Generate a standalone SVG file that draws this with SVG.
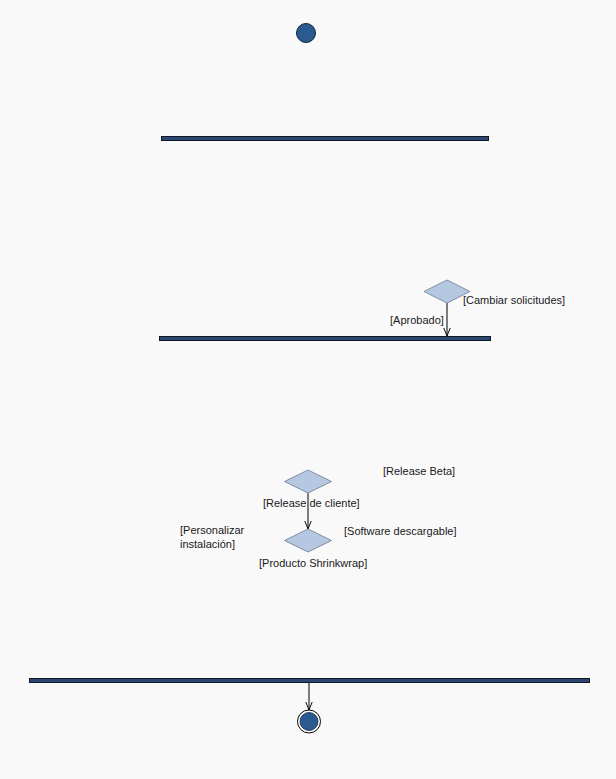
<svg xmlns="http://www.w3.org/2000/svg" width="616" height="779" viewBox="0 0 616 779">
<style>
.bar{fill:#2b4670;stroke:#101828;stroke-width:1}
.dec{fill:#b5c7e1;stroke:#7f8fa3;stroke-width:1}
.lbl{font-family:"Liberation Sans",Arial,sans-serif;font-size:11px;fill:#1a1a1a}
.edge{stroke:#000;stroke-width:1;fill:none}
</style>
<defs>
<marker id="arr" viewBox="0 0 10 10" refX="10" refY="5" markerWidth="8" markerHeight="8" orient="auto" markerUnits="userSpaceOnUse">
<path d="M0,1 L10,5 L0,9" fill="none" stroke="#000" stroke-width="1.2"/>
</marker>
</defs>
<rect width="616" height="779" fill="#f9f9f9"/>
<g id="connectors">
<line class="edge" x1="447" y1="303" x2="447" y2="336" marker-end="url(#arr)"/>
<line class="edge" x1="308" y1="493" x2="308" y2="529" marker-end="url(#arr)"/>
<line class="edge" x1="309" y1="682" x2="309" y2="710" marker-end="url(#arr)"/>
</g>
<g id="start"><circle cx="306" cy="33" r="9.5" fill="#2a5a90" stroke="#13233a" stroke-width="1"/></g>
<g id="fork1"><rect class="bar" x="161.5" y="136.5" width="327" height="4"/></g>
<g id="decision1"><polygon class="dec" points="447,280 470,291.5 447,303 424,291.5"/></g>
<g id="join1"><rect class="bar" x="159.5" y="336.5" width="331" height="4"/></g>
<g id="decision2"><polygon class="dec" points="308,470 331.5,481.5 308,493 284.5,481.5"/></g>
<g id="decision3"><polygon class="dec" points="308,529 331.5,540.5 308,552 284.5,540.5"/></g>
<g id="join2"><rect class="bar" x="29.5" y="678.5" width="560" height="4"/></g>
<g id="end">
<circle cx="309" cy="721.5" r="11.5" fill="#fff" stroke="#000" stroke-width="1"/>
<circle cx="309" cy="721.5" r="9" fill="#2a5a90" stroke="#13233a" stroke-width="0.8"/>
</g>
<g id="labels">
<text class="lbl" x="463" y="304">[Cambiar solicitudes]</text>
<text class="lbl" x="390" y="324">[Aprobado]</text>
<text class="lbl" x="383" y="475">[Release Beta]</text>
<text class="lbl" x="263" y="507">[Release de cliente]</text>
<text class="lbl" x="180" y="534">[Personalizar</text>
<text class="lbl" x="180" y="548">instalación]</text>
<text class="lbl" x="344" y="535">[Software descargable]</text>
<text class="lbl" x="259" y="567">[Producto Shrinkwrap]</text>
</g>
</svg>
